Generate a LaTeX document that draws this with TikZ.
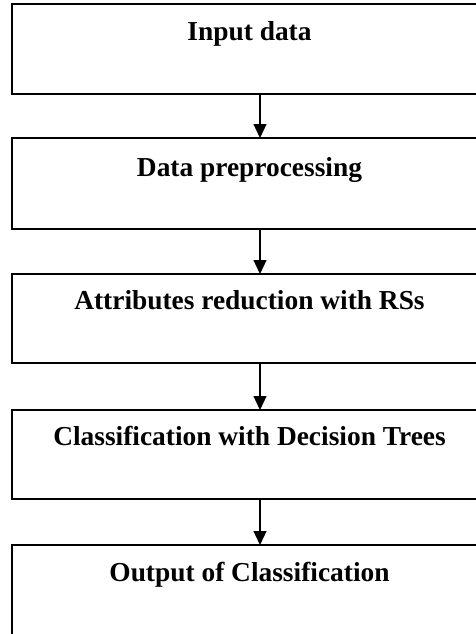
\documentclass[tikz,border=0pt]{standalone}
\usepackage{fontspec}
\setmainfont{Liberation Serif}
\usetikzlibrary{arrows.meta}
\begin{document}
\begin{tikzpicture}[x=1pt, y=-1pt,
  stagebox/.style={draw=black, line width=2pt, inner sep=0pt, outer sep=0pt,
    minimum width=475pt, anchor=north west},
  stagelabel/.style={anchor=base, inner sep=0pt,
    font=\fontsize{27.4}{32}\selectfont\bfseries},
  flow/.style={line width=1.3pt, -{Triangle[length=14pt, width=13pt]}}]
  \useasboundingbox (0,0) rectangle (476,634);
  \clip (0,0) rectangle (476,634);
  % stage boxes (they run past the right edge of the page)
  \node[stagebox, minimum height=90pt] (b1) at (12,4) {};
  \node[stagebox, minimum height=91pt] (b2) at (12,138) {};
  \node[stagebox, minimum height=89pt] (b3) at (12,274) {};
  \node[stagebox, minimum height=89pt] (b4) at (12,410) {};
  \node[stagebox, minimum height=120pt] (b5) at (12,545) {};
  % labels
  \node[stagelabel] (t1) at (249.5,41) {Input data};
  \node[stagelabel] (t2) at (249.5,176) {Data preprocessing};
  \node[stagelabel] (t3) at (249.5,309) {Attributes reduction with RSs};
  \node[stagelabel] (t4) at (249.5,445) {Classification with Decision Trees};
  \node[stagelabel] (t5) at (249.5,581) {Output of Classification};
  % connectors
  \draw[flow] ([xshift=10.5pt]b1.south) -- ([xshift=10.5pt]b2.north);
  \draw[flow] ([xshift=10.5pt]b2.south) -- ([xshift=10.5pt]b3.north);
  \draw[flow] ([xshift=10.5pt]b3.south) -- ([xshift=10.5pt]b4.north);
  \draw[flow] ([xshift=10.5pt]b4.south) -- ([xshift=10.5pt]b5.north);
\end{tikzpicture}
\end{document}
